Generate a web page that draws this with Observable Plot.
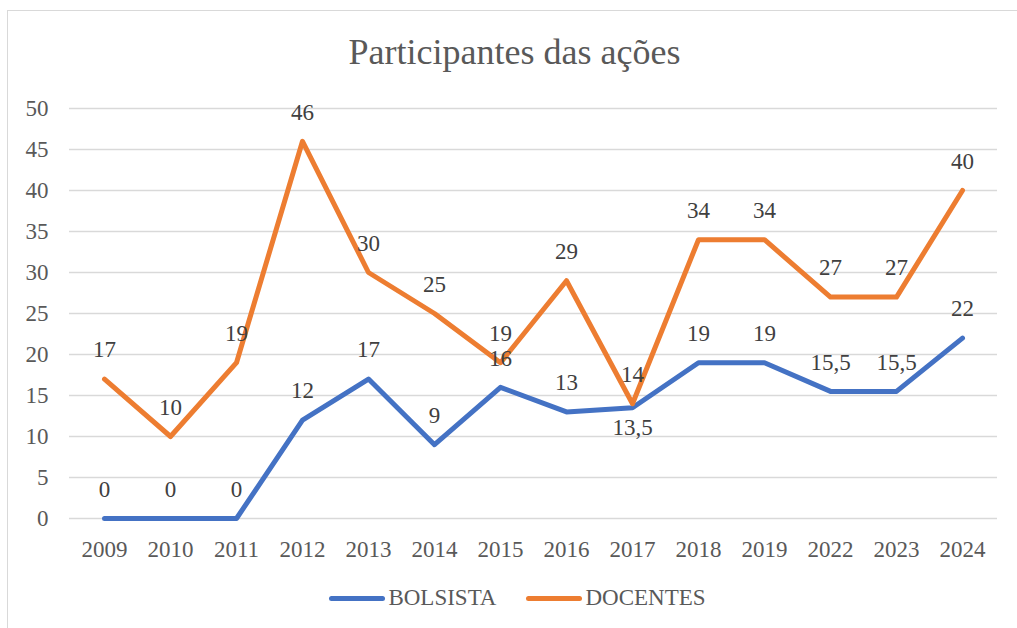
<!DOCTYPE html>
<html>
<head>
<meta charset="utf-8">
<script src="https://cdn.jsdelivr.net/npm/d3@7"></script>
<script src="https://cdn.jsdelivr.net/npm/@observablehq/plot@0.6"></script>
<style>
  html, body { margin: 0; padding: 0; background: #fff; }
  #wrap { position: relative; width: 1017px; height: 628px; overflow: hidden; font-family: "Liberation Serif", Tinos, "Times New Roman", Times, "Nimbus Roman", "DejaVu Serif", serif; }
  #frame { position: absolute; left: 7px; top: 10px; width: 1100px; height: 700px; border-left: 1.5px solid #d9d9d9; border-top: 1.5px solid #d9d9d9; box-sizing: border-box; }
  #title { position: absolute; left: 0; top: 0; width: 1017px; height: 80px; box-sizing: border-box; padding-top: 34px; padding-left: 12px; text-align: center; font-size: 36px; line-height: 36px; color: #595959; }
  #chart { position: absolute; left: 0; top: 80px; }
  #legend { position: absolute; left: 0; top: 568px; width: 1017px; height: 60px; display: flex; justify-content: center; align-items: center; padding-left: 18px; box-sizing: border-box; font-size: 23px; color: #595959; }
  .item { display: flex; align-items: center; margin: 0 15px; }
  .swatch { width: 56px; height: 5px; border-radius: 3px; margin-right: 3px; }
</style>
</head>
<body>
<div id="wrap">
  <div id="frame"></div>
  <div id="title"></div>
  <div id="chart"></div>
  <div id="legend"></div>
</div>
<script>
const titleText = "Participantes das ações";
const years = ["2009","2010","2011","2012","2013","2014","2015","2016","2017","2018","2019","2022","2023","2024"];
const bolsista = [0,0,0,12,17,9,16,13,13.5,19,19,15.5,15.5,22];
const docentes = [17,10,19,46,30,25,19,29,14,34,34,27,27,40];
const seriesNames = ["BOLSISTA","DOCENTES"];
const seriesColors = ["#4472C4","#ED7D31"];
const yTicks = [0,5,10,15,20,25,30,35,40,45,50];
const labelsBelow = ["BOLSISTA|2017"];

const data = [];
[bolsista, docentes].forEach((vals, si) => {
  vals.forEach((v, i) => data.push({series: seriesNames[si], year: years[i], value: v}));
});
const fmt = v => String(v).replace(".", ",");
const isBelow = d => labelsBelow.includes(d.series + "|" + d.year);

document.getElementById("title").textContent = titleText;

const FONT = "'Liberation Serif', Tinos, 'Times New Roman', Times, 'Nimbus Roman', 'DejaVu Serif', serif";

const chart = Plot.plot({
  width: 1017,
  height: 488,
  marginTop: 28,
  marginBottom: 50,
  marginLeft: 69,
  marginRight: 20,
  style: { fontFamily: FONT, fontSize: "23px", color: "#595959", background: "transparent", overflow: "visible" },
  x: { type: "point", domain: years, padding: 0.5, label: null },
  y: { domain: [0, 50], label: null },
  color: { domain: seriesNames, range: seriesColors },
  marks: [
    Plot.gridY(yTicks, { stroke: "#d9d9d9", strokeOpacity: 1, strokeWidth: 1.5 }),
    Plot.axisY(yTicks, { tickSize: 0, tickPadding: 21, label: null, fill: "#595959", fontFamily: FONT }),
    Plot.axisX({ tickSize: 0, tickPadding: 22, label: null, fill: "#595959", fontFamily: FONT }),
    Plot.lineY(data, { x: "year", y: "value", stroke: "series", z: "series", strokeWidth: 5, strokeLinejoin: "round", strokeLinecap: "round" }),
    Plot.text(data.filter(d => !isBelow(d)), { x: "year", y: "value", text: d => fmt(d.value), dy: -29, fill: "#404040", fontSize: 23, fontFamily: FONT }),
    Plot.text(data.filter(d => isBelow(d)), { x: "year", y: "value", text: d => fmt(d.value), dy: 20, fill: "#404040", fontSize: 23, fontFamily: FONT })
  ]
});
document.getElementById("chart").appendChild(chart);

const legend = document.getElementById("legend");
seriesNames.forEach((name, i) => {
  const item = document.createElement("div");
  item.className = "item";
  const sw = document.createElement("div");
  sw.className = "swatch";
  sw.style.background = seriesColors[i];
  const label = document.createElement("span");
  label.textContent = name;
  item.appendChild(sw);
  item.appendChild(label);
  legend.appendChild(item);
});
</script>
</body>
</html>
